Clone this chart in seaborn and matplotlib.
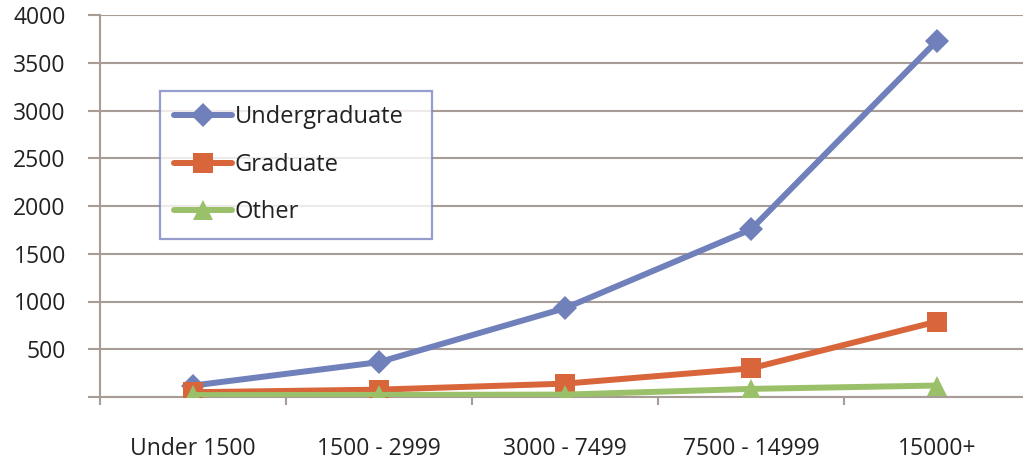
import matplotlib
matplotlib.use("Agg")
import matplotlib.pyplot as plt
import seaborn as sns
import pandas as pd
import numpy as np

# Enrolment counts by tuition band
categories = ["Under 1500", "1500 - 2999", "3000 - 7499", "7500 - 14999", "15000+"]
undergraduate = [120, 365, 930, 1755, 3730]
graduate = [50, 77, 140, 300, 790]
other = [20, 22, 25, 85, 120]
y_ticks = [0, 500, 1000, 1500, 2000, 2500, 3000, 3500, 4000]
y_tick_labels = ["", "500", "1000", "1500", "2000", "2500", "3000", "3500", "4000"]

sns.set_style("white")
plt.rcParams["font.family"] = ["Open Sans", "DejaVu Sans"]

GRID = "#a89c96"
TEXT = "#222222"
FS = 16.5

fig = plt.figure(figsize=(10.23, 4.66), dpi=100)
ax = fig.add_axes([100 / 1023, 69 / 466, 930 / 1023, 382 / 466])

df = pd.DataFrame({"band": categories, "Undergraduate": undergraduate,
                   "Graduate": graduate, "Other": other})

series = [
    ("Undergraduate", "#7080bb", "D", 12),
    ("Graduate", "#d9653a", "s", 14.5),
    ("Other", "#9bc06a", "^", 15),
]
for name, color, marker, ms in series:
    sns.lineplot(data=df, x="band", y=name, ax=ax, label=name, color=color,
                 marker=marker, markersize=ms, markeredgewidth=0,
                 linewidth=4.3, sort=False, zorder=3)

ax.set_xlim(-0.5, len(categories) - 0.5)
ax.set_ylim(0, 4000)
ax.set_yticks(y_ticks)
ax.set_yticklabels(y_tick_labels)
ax.set_xticks(range(len(categories)))
ax.set_xticklabels(categories)
ax.set_xticks(np.arange(-0.5, len(categories) + 0.5, 1), minor=True)
ax.set_xlabel("")
ax.set_ylabel("")

ax.yaxis.grid(True, color=GRID, linewidth=1.5)
ax.set_axisbelow(True)
for side in ["top", "right"]:
    ax.spines[side].set_visible(False)
for side in ["left", "bottom"]:
    ax.spines[side].set_color(GRID)
    ax.spines[side].set_linewidth(1.5)

ax.tick_params(axis="y", which="major", direction="out", length=8.6, width=1.5,
               color=GRID, pad=16, labelsize=FS, labelcolor=TEXT, left=True)
ax.tick_params(axis="x", which="major", length=0, pad=29, labelsize=FS,
               labelcolor=TEXT)
ax.tick_params(axis="x", which="minor", direction="out", length=6, width=1.5,
               color=GRID, bottom=True)

# Legend box: fixed width, entries packed to the left
leg = ax.legend(loc="upper left", bbox_to_anchor=(0.0645, 0.419, 0.292, 0.382),
                mode="expand", borderaxespad=0,
                fontsize=17, frameon=True, fancybox=False, handlelength=2.45,
                handletextpad=0.12, labelspacing=1.0, borderpad=0.6,
                labelcolor=TEXT)
leg.get_frame().set_edgecolor("#7b86c0")
leg.get_frame().set_linewidth(1.6)

fig.savefig("out.png", dpi=100)
